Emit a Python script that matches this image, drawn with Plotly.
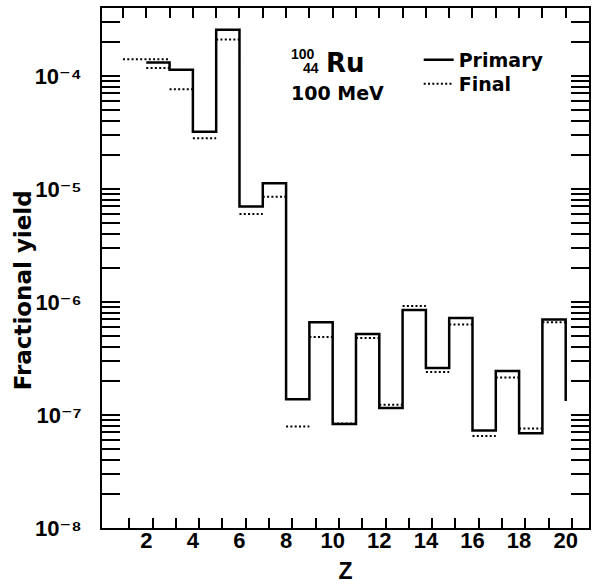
import plotly.graph_objects as go

# ---- data ----
z_primary = [2, 3, 4, 5, 6, 7, 8, 9, 10, 11, 12, 13, 14, 15, 16, 17, 18, 19, 20]
primary = [1.31e-4, 1.13e-4, 3.2e-5, 2.55e-4, 7.0e-6, 1.12e-5, 1.38e-7, 6.6e-7,
           8.3e-8, 5.2e-7, 1.15e-7, 8.5e-7, 2.6e-7, 7.2e-7, 7.3e-8, 2.45e-7,
           6.9e-8, 7.0e-7, 1.33e-7]

final_left = [1, 2, 3, 4, 5, 6, 7, 8, 9, 10, 11, 12, 13, 14, 15, 16, 17, 18, 19]
final_right = [3, 3, 4, 5, 6, 7, 8, 9, 10, 11, 12, 13, 14, 15, 16, 17, 18, 19, 20]
final = [1.40e-4, 1.17e-4, 7.6e-5, 2.8e-5, 2.1e-4, 6.0e-6, 8.5e-6, 7.9e-8,
         4.9e-7, 8.4e-8, 4.8e-7, 1.23e-7, 9.2e-7, 2.4e-7, 6.3e-7, 6.5e-8,
         2.15e-7, 7.6e-8, 6.6e-7]

x_tickvals = [2, 4, 6, 8, 10, 12, 14, 16, 18, 20]
x_ticktext = ["2", "4", "6", "8", "10", "12", "14", "16", "18", "20"]
y_tickvals = [1e-8, 1e-7, 1e-6, 1e-5, 1e-4]
y_ticktext = ["10\u207b\u2078", "10\u207b\u2077", "10\u207b\u2076",
              "10\u207b\u2075", "10\u207b\u2074"]

NUM = "Liberation Sans, Arial, Helvetica, DejaVu Sans, sans-serif"
WORD = "DejaVu Sans, Liberation Sans, sans-serif"

# plot-area geometry (px) used to place the free texts
L, R, T, B = 102, 591, 8, 528
PW, PH = R - L, B - T


def px(xp):
    return (xp - L) / PW


def py(yp):
    return (B - yp) / PH


# build dotted segments
fx, fy = [], []
for a, b, v in zip(final_left, final_right, final):
    fx += [a, b, None]
    fy += [v, v, None]

fig = go.Figure()
fig.add_trace(go.Scatter(
    x=z_primary, y=primary, mode="lines", name="Primary",
    line=dict(color="black", width=2.5, shape="hv"), legend="legend"))
fig.add_trace(go.Scatter(
    x=fx, y=fy, mode="lines", name="Final",
    line=dict(color="black", width=2, dash="2px,2.3px"), legend="legend2"))
# helper trace so the top (mirror) axis is drawn
fig.add_trace(go.Scatter(x=[None], y=[None], xaxis="x2", showlegend=False,
                         hoverinfo="skip"))

minor_y = [m * 10.0 ** e for e in range(-8, -3) for m in range(2, 10)]
minor_y = [v for v in minor_y if v < 10 ** -3.40]

fig.update_layout(
    width=595, height=587,
    margin=dict(l=L, r=595 - R, t=T, b=587 - B),
    paper_bgcolor="white", plot_bgcolor="white",
    font=dict(family=NUM, size=21, color="black", weight="bold"),
    xaxis=dict(
        range=[0.1, 21.0], showgrid=False, zeroline=False,
        showline=True, linecolor="black", linewidth=2,
        tickmode="array", tickvals=x_tickvals, ticktext=x_ticktext,
        ticks="", ticklabelstandoff=-8,
        tickfont=dict(size=22, family=NUM, weight="bold"),
        minor=dict(tickmode="array", tickvals=[z + 0.27 for z in range(1, 21)],
                   ticks="inside", ticklen=10, tickwidth=1.5, tickcolor="black",
                   showgrid=False),
        title=dict(text="Z", font=dict(size=23, family=NUM, weight="bold"), standoff=10),
    ),
    xaxis2=dict(
        overlaying="x", side="top", range=[0.1, 21.0], showgrid=False,
        zeroline=False, showline=True, linecolor="black", linewidth=2,
        tickmode="array", tickvals=list(range(1, 21)), ticks="inside",
        ticklen=10, tickwidth=1.5, tickcolor="black", showticklabels=False,
    ),
    yaxis=dict(
        type="log", range=[-8, -3.40], showgrid=False, zeroline=False,
        showline=True, linecolor="black", linewidth=2, mirror="allticks",
        tickmode="array", tickvals=y_tickvals, ticktext=y_ticktext,
        ticks="inside", ticklen=18, tickwidth=1.5, tickcolor="black",
        ticklabelstandoff=14,
        tickfont=dict(size=22, family=NUM, weight="bold"),
        minor=dict(tickmode="array", tickvals=minor_y, ticks="inside",
                   ticklen=9, tickwidth=1.5, tickcolor="black", showgrid=False),
    ),
    legend=dict(x=px(420), y=py(60), xanchor="left", yanchor="middle",
                bgcolor="rgba(0,0,0,0)", itemwidth=30,
                font=dict(size=19, family=WORD, weight="bold")),
    legend2=dict(x=px(420), y=py(84), xanchor="left", yanchor="middle",
                 bgcolor="rgba(0,0,0,0)", itemwidth=30,
                 font=dict(size=19, family=WORD, weight="bold")),
    showlegend=True,
)

fig.add_annotation(xref="paper", yref="paper", x=px(23), y=py(290),
                   xanchor="center", yanchor="middle", textangle=-90,
                   text="Fractional yield", showarrow=False,
                   font=dict(size=23, family=WORD, color="black", weight="bold"))
fig.add_annotation(xref="paper", yref="paper", x=px(318), y=py(54),
                   xanchor="right", yanchor="middle", text="100", showarrow=False,
                   font=dict(size=14, family=NUM, color="black", weight="bold"))
fig.add_annotation(xref="paper", yref="paper", x=px(322), y=py(68),
                   xanchor="right", yanchor="middle", text="44", showarrow=False,
                   font=dict(size=14, family=NUM, color="black", weight="bold"))
fig.add_annotation(xref="paper", yref="paper", x=px(325), y=py(63),
                   xanchor="left", yanchor="middle", text="Ru", showarrow=False,
                   font=dict(size=26, family=WORD, color="black", weight="bold"))
fig.add_annotation(xref="paper", yref="paper", x=px(290), y=py(93),
                   xanchor="left", yanchor="middle", text="100 MeV", showarrow=False,
                   font=dict(size=19, family=WORD, color="black", weight="bold"))

fig.write_html("out.html")
